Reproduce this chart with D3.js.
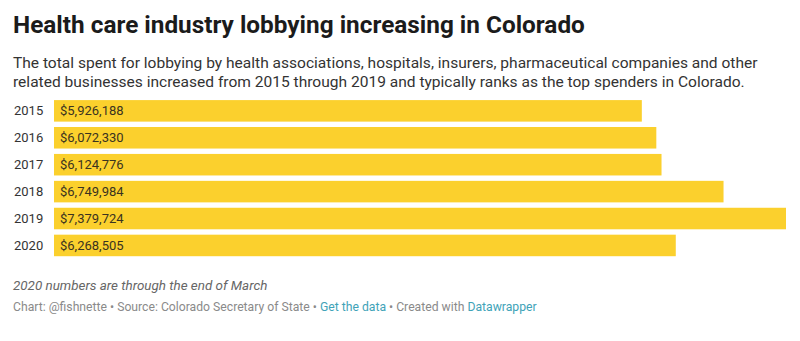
<!DOCTYPE html>
<html>
<head>
<meta charset="utf-8">
<script src="https://cdn.jsdelivr.net/npm/d3@7"></script>
<style>
  html, body { margin: 0; padding: 0; background: #fff; }
  svg { display: block; font-family: Roboto, "Noto Sans", sans-serif; }
</style>
</head>
<body>
<svg id="chart" width="800" height="341"></svg>
<script>
// Lobbying totals by year
const years = ["2015", "2016", "2017", "2018", "2019", "2020"];
const totals = [5926188, 6072330, 6124776, 6749984, 7379724, 6268505];

const svg = d3.select("#chart");

// Header
svg.append("text")
  .attr("x", 13).attr("y", 33)
  .attr("font-size", 24.35).attr("font-weight", 700).attr("fill", "#1b1b1b")
  .text("Health care industry lobbying increasing in Colorado");

const sub = [
  "The total spent for lobbying by health associations, hospitals, insurers, pharmaceutical companies and other",
  "related businesses increased from 2015 through 2019 and typically ranks as the top spenders in Colorado."
];
svg.append("g").selectAll("text").data(sub).join("text")
  .attr("x", 13).attr("y", (d, i) => 68 + i * 19)
  .attr("font-size", 15.55).attr("fill", "#333")
  .text(d => d);

// Scales
const x = d3.scaleLinear().domain([0, d3.max(totals)]).range([54, 786]);
const y = d3.scaleBand().domain(years).range([97.4, 258.9]).paddingInner(0.2).paddingOuter(0.1);

const rows = years.map((yr, i) => ({ year: yr, value: totals[i] }));
const fmt = d3.format("$,");

const g = svg.append("g");
g.selectAll("rect").data(rows).join("rect")
  .attr("x", x(0))
  .attr("y", d => y(d.year))
  .attr("width", d => x(d.value) - x(0))
  .attr("height", y.bandwidth())
  .attr("fill", "#fbd02d");

g.selectAll("text.year").data(rows).join("text")
  .attr("class", "year")
  .attr("x", 14)
  .attr("y", d => y(d.year) + y.bandwidth() / 2)
  .attr("dy", "0.35em")
  .attr("font-size", 13).attr("fill", "#333")
  .text(d => d.year);

g.selectAll("text.val").data(rows).join("text")
  .attr("class", "val")
  .attr("x", x(0) + 6)
  .attr("y", d => y(d.year) + y.bandwidth() / 2)
  .attr("dy", "0.35em")
  .attr("font-size", 13).attr("fill", "#3a3320")
  .text(d => fmt(d.value));

// Notes and footer
svg.append("text")
  .attr("x", 13).attr("y", 290)
  .attr("font-size", 13.4).attr("font-style", "italic").attr("fill", "#666")
  .text("2020 numbers are through the end of March");

const foot = svg.append("text")
  .attr("x", 13).attr("y", 311)
  .attr("font-size", 12.2).attr("fill", "#8a8a8a");
foot.append("tspan").text("Chart: @fishnette • Source: Colorado Secretary of State • ");
foot.append("tspan").attr("fill", "#3fa3b8").text("Get the data");
foot.append("tspan").text(" • Created with ");
foot.append("tspan").attr("fill", "#3fa3b8").text("Datawrapper");
</script>
</body>
</html>
